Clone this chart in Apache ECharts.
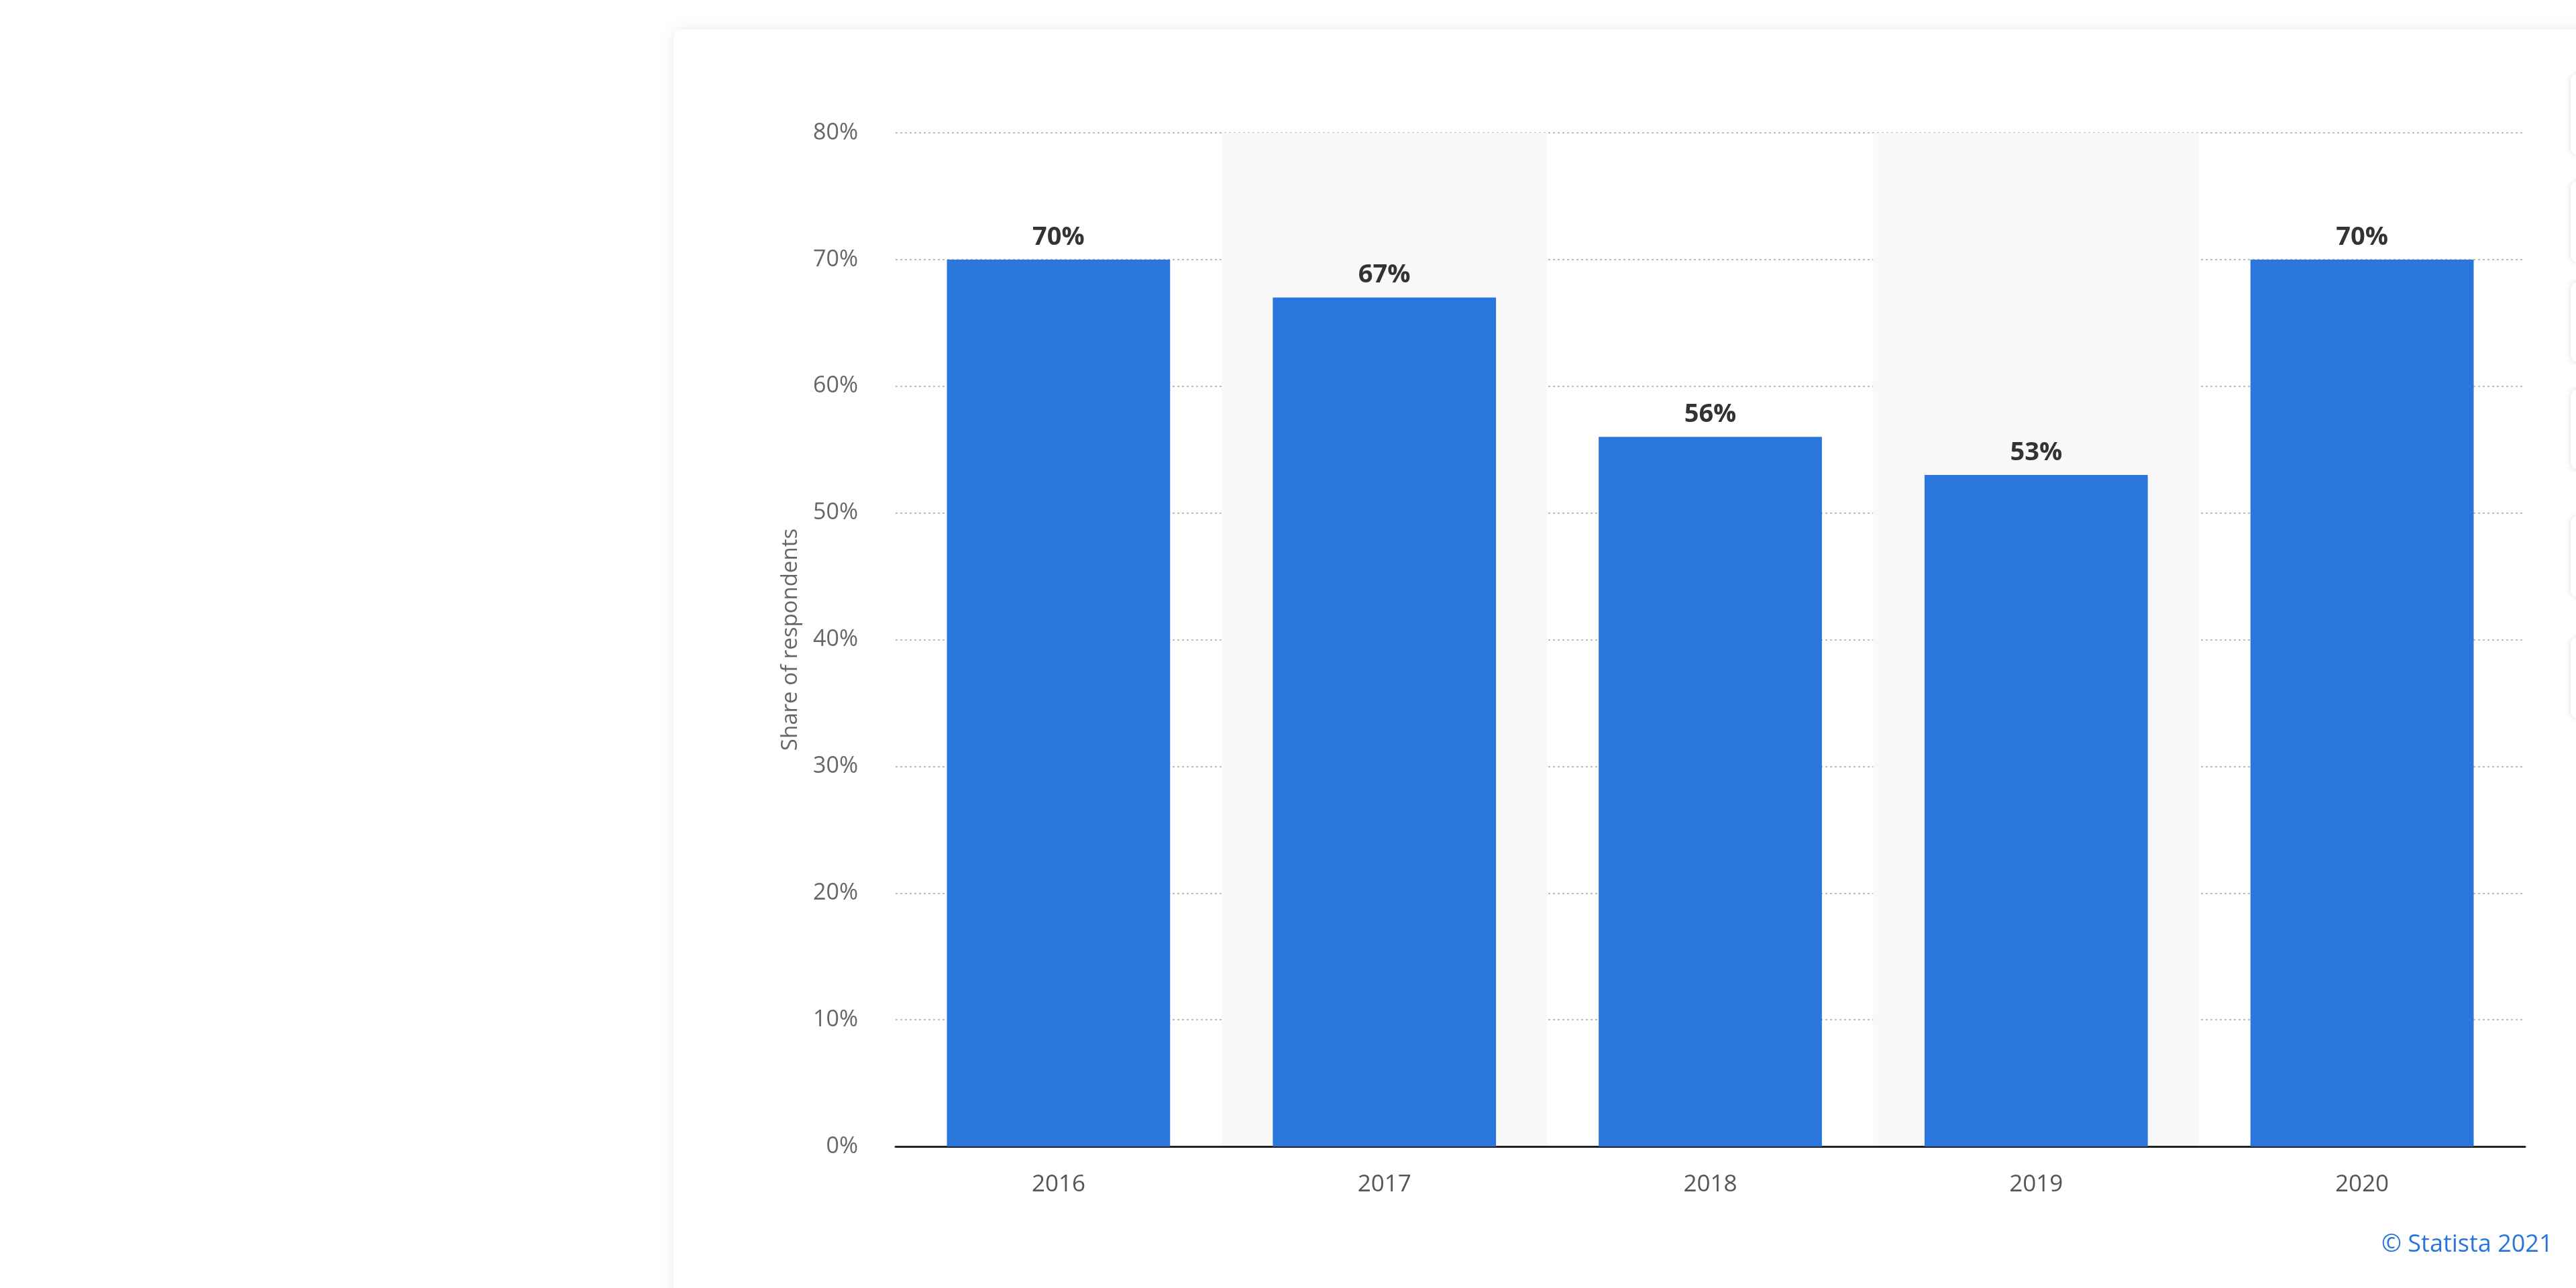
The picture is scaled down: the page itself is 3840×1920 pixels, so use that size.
<!DOCTYPE html>
<html><head><meta charset="utf-8">
<script src="https://cdn.jsdelivr.net/npm/echarts@6/dist/echarts.min.js"></script>
<style>
html,body{margin:0;padding:0;background:#fff;width:3840px;height:1920px;overflow:hidden;font-family:"Open Sans",sans-serif}
#card{position:absolute;left:1004px;top:44px;width:2900px;height:1950px;background:#fff;border-radius:14px;box-shadow:0 0 30px rgba(0,0,0,0.08)}
#chart{position:absolute;left:0;top:0;width:3840px;height:1920px}
.btn{position:absolute;left:3832px;width:60px;height:120px;background:#fff;border-radius:10px;box-shadow:0 0 8px rgba(0,0,0,0.15)}
#foot{position:absolute;left:3550px;top:1828px;color:#2876dd;font-size:36px;white-space:nowrap}
</style></head><body>
<div id="card"></div>
<div class="btn" style="top:110px"></div><div class="btn" style="top:270px"></div><div class="btn" style="top:420px"></div>
<div class="btn" style="top:580px"></div><div class="btn" style="top:770px"></div><div class="btn" style="top:950px"></div>
<div id="chart"></div>
<div id="foot">© Statista 2021</div>
<script>
const categories = ['2016','2017','2018','2019','2020'];
const values = [70, 67, 56, 53, 70];
const yTicks = [0,10,20,30,40,50,60,70,80];
const chart = echarts.init(document.getElementById('chart'));
chart.setOption({
  backgroundColor:'transparent',
  grid:{left:1335,right:76,top:198,bottom:211},
  xAxis:{type:'category',data:categories,
    axisLine:{lineStyle:{color:'#222',width:3}},axisTick:{show:false},
    axisLabel:{color:'#555',fontSize:35,margin:40,fontFamily:'Open Sans'},
    splitArea:{show:true,areaStyle:{color:['rgba(0,0,0,0)','#f9f9f9']}}},
  yAxis:{type:'value',min:yTicks[0],max:yTicks[yTicks.length-1],interval:10,
    name:'Share of respondents',nameLocation:'middle',nameGap:140,
    nameTextStyle:{color:'#666',fontSize:33,fontFamily:'Open Sans'},
    axisLabel:{formatter:'{value}%',color:'#666',fontSize:34,margin:56,fontFamily:'Open Sans'},
    axisLine:{show:false},axisTick:{show:false},
    splitLine:{lineStyle:{color:'#bbb',type:[3,4],width:2}}},
  series:[{type:'bar',data:values,barWidth:'68.5%',
    itemStyle:{color:'#2a76dc'},
    label:{show:true,position:'top',formatter:'{c}%',color:'#333',fontWeight:'bold',fontSize:38,distance:14,fontFamily:'Open Sans'}}]
});
</script></body></html>
